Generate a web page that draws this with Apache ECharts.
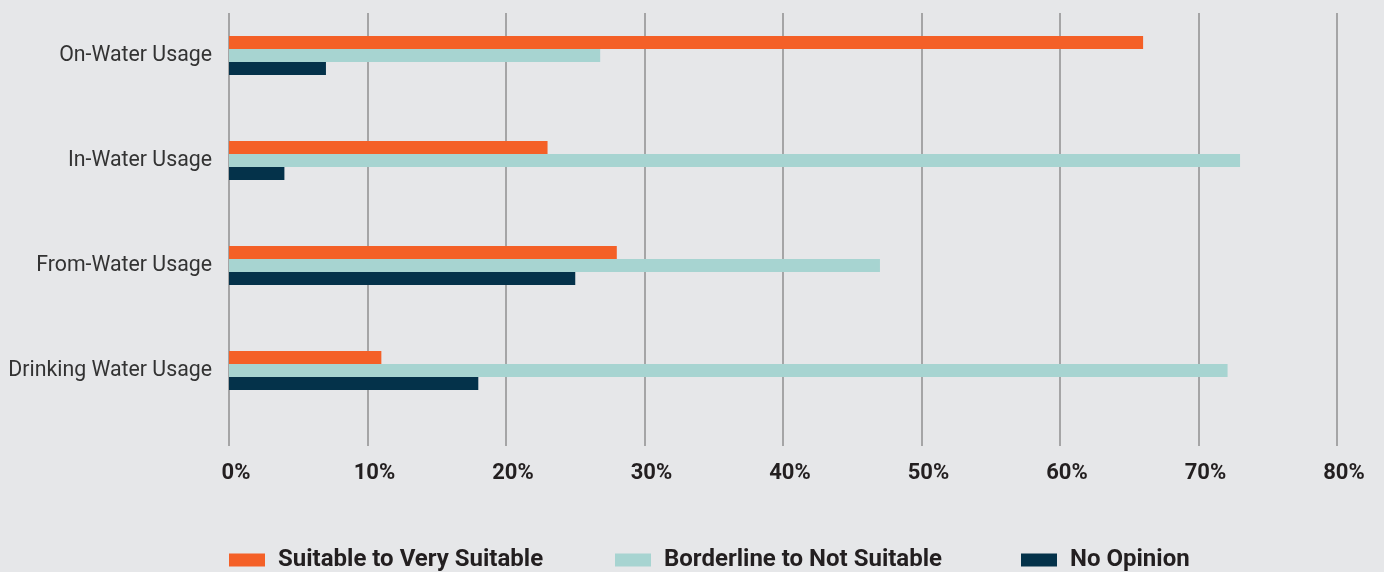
<!DOCTYPE html>
<html><head><meta charset="utf-8">
<script src="https://cdn.jsdelivr.net/npm/echarts@6/dist/echarts.min.js"></script>
<style>html,body{margin:0;padding:0;background:#e6e7e9;}#c{width:1384px;height:572px;}</style>
</head><body><div id="c"></div>
<script>
const categories = ['On-Water Usage', 'In-Water Usage', 'From-Water Usage', 'Drinking Water Usage'];
const suitable = [66, 23, 28, 11];
const borderline = [26.8, 73, 47, 72.1];
const noOpinion = [7, 4, 25, 18];
const seriesNames = ['Suitable to Very Suitable', 'Borderline to Not Suitable', 'No Opinion'];
const tickValues = [0, 10, 20, 30, 40, 50, 60, 70, 80];

const colors = ['#f46027', '#a7d4d1', '#04324a'];
const chart = echarts.init(document.getElementById('c'), null, {renderer: 'canvas'});
const legendLefts = [229, 615, 1021];
chart.setOption({
  backgroundColor: '#e6e7e9',
  animation: false,
  color: colors,
  legend: seriesNames.map((n, i) => ({
    data: [n], left: legendLefts[i], top: 548, itemWidth: 36, itemHeight: 13, itemGap: 0,
    icon: 'rect', padding: 0,
    textStyle: {fontFamily: 'Roboto', fontWeight: 'bold', fontSize: 24, color: '#231f20', padding: [0, 0, 0, 8]}
  })),
  grid: [
    {left: 229, right: 47, top: 13, bottom: 126},
    {left: 229, right: 47, top: 3, bottom: 149}
  ],
  xAxis: [
    {gridIndex: 0, type: 'value', min: 0, max: 80, interval: 10,
     axisLine: {show: false}, axisTick: {show: false},
     splitLine: {show: true, lineStyle: {color: '#8f8f8f', width: 1.5}},
     axisLabel: {formatter: v => tickValues.includes(v) ? v + '%' : '', fontFamily: 'Roboto', fontWeight: 'bold', fontSize: 22, color: '#231f20', margin: 16, padding: [0, 0, 0, 14]}},
    {gridIndex: 1, type: 'value', min: 0, max: 80, show: false}
  ],
  yAxis: [
    {gridIndex: 0, type: 'category', data: categories, show: false},
    {gridIndex: 1, type: 'category', data: categories, inverse: true,
     axisLine: {show: false}, axisTick: {show: false},
     axisLabel: {fontFamily: 'Roboto', fontSize: 21.3, color: '#333333', margin: 17, padding: [0, 0, 5, 0]}}
  ],
  series: [suitable, borderline, noOpinion].map((d, i) => ({
    name: seriesNames[i], type: 'bar', xAxisIndex: 1, yAxisIndex: 1,
    data: d, barWidth: 13, barGap: '0%', itemStyle: {color: colors[i]}
  }))
});
</script></body></html>
